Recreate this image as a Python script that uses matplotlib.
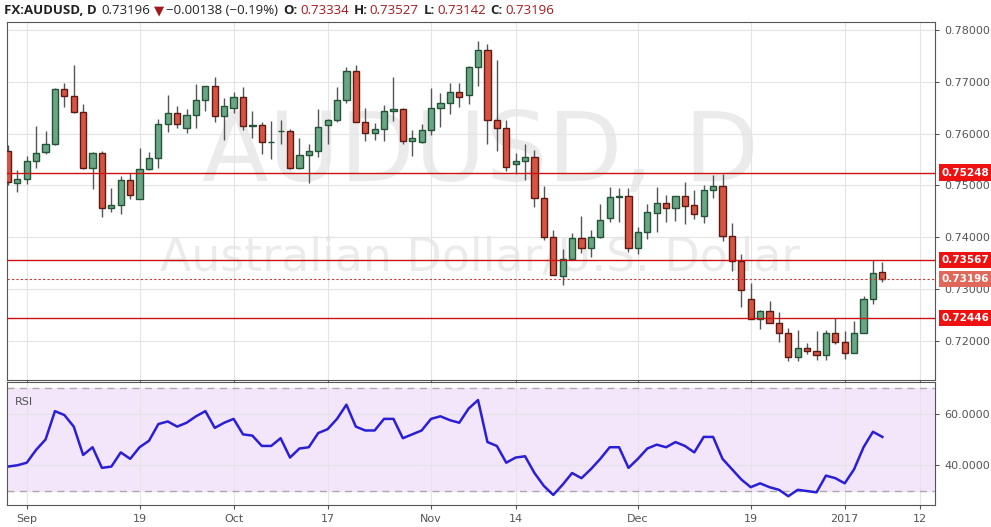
import numpy as np
import pandas as pd
import matplotlib
matplotlib.use("Agg")
import matplotlib.pyplot as plt
from matplotlib.patches import Rectangle

# OHLC, Aug 30 2016 .. Jan 6 2017 (daily)
opens = [.7566, .7505, .7513, .7548, .7564, .7579, .7685, .7672, .7641, .7534,
         .7563, .7457, .7462, .7511, .7474, .7531, .7552, .7619, .7639, .7610,
         .7635, .7664, .7691, .7633, .7650, .7670, .7615, .7617, .7583, .7604,
         .7604, .7534, .7559, .7567, .7617, .7627, .7664, .7720, .7623, .7602,
         .7608, .7643, .7648, .7585, .7583, .7606, .7650, .7658, .7681, .7675,
         .7728, .7761, .7627, .7610, .7542, .7548, .7555, .7475, .7401, .7325,
         .7359, .7398, .7380, .7400, .7437, .7478, .7480, .7380, .7411, .7446,
         .7466, .7456, .7479, .7462, .7442, .7492, .7498, .7402, .7355, .7281,
         .7243, .7258, .7235, .7216, .7170, .7187, .7180, .7173, .7215, .7199,
         .7178, .7215, .7281, .73334]
highs = [.7577, .7530, .7556, .7614, .7604, .7687, .7698, .7732, .7656, .7564,
         .7566, .7495, .7519, .7524, .7572, .7564, .7629, .7674, .7653, .7648,
         .7696, .7692, .7709, .7669, .7680, .7690, .7643, .7623, .7624, .7627,
         .7608, .7592, .7579, .7647, .7628, .7690, .7728, .7733, .7650, .7621,
         .7655, .7709, .7649, .7606, .7619, .7687, .7679, .7698, .7698, .7730,
         .7779, .7773, .7741, .7627, .7563, .7580, .7569, .7498, .7414, .7377,
         .7409, .7442, .7415, .7464, .7497, .7495, .7495, .7419, .7465, .7497,
         .7481, .7480, .7506, .7492, .7501, .7520, .7523, .7427, .7367, .7312,
         .7259, .7278, .7257, .7225, .7221, .7197, .7219, .7222, .7245, .7219,
         .7239, .7286, .7357, .73527]
lows = [.7500, .7488, .7503, .7533, .7561, .7578, .7652, .7639, .7532, .7493,
        .7439, .7448, .7444, .7474, .7473, .7530, .7533, .7603, .7610, .7601,
        .7611, .7643, .7623, .7588, .7640, .7607, .7592, .7561, .7550, .7579,
        .7532, .7532, .7504, .7554, .7580, .7622, .7659, .7622, .7585, .7588,
        .7586, .7624, .7580, .7556, .7582, .7598, .7612, .7637, .7651, .7657,
        .7692, .7579, .7567, .7527, .7523, .7511, .7459, .7395, .7327, .7308,
        .7359, .7369, .7362, .7398, .7429, .7429, .7372, .7367, .7397, .7410,
        .7429, .7432, .7425, .7435, .7428, .7476, .7393, .7336, .7265, .7243,
        .7224, .7235, .7198, .7161, .7162, .7175, .7164, .7164, .7195, .7165,
        .7178, .7215, .7272, .73142]
closes = [.7506, .7513, .7548, .7563, .7579, .7685, .7672, .7641, .7533, .7563,
          .7457, .7462, .7511, .7482, .7531, .7552, .7619, .7639, .7619, .7635,
          .7664, .7691, .7633, .7654, .7670, .7615, .7617, .7583, .7583, .7604,
          .7533, .7559, .7567, .7612, .7627, .7664, .7720, .7623, .7602, .7608,
          .7643, .7648, .7585, .7592, .7606, .7650, .7658, .7681, .7670, .7728,
          .7761, .7627, .7610, .7536, .7548, .7555, .7475, .7401, .7327, .7359,
          .7398, .7380, .7400, .7434, .7478, .7480, .7380, .7411, .7449, .7466,
          .7456, .7479, .7461, .7444, .7492, .7498, .7402, .7355, .7298, .7243,
          .7258, .7235, .7216, .7170, .7187, .7180, .7173, .7215, .7198, .7178,
          .7215, .7281, .7332, .73196]
rsi = [39.5, 40, 41, 46, 50, 61, 59.5, 55, 44, 47, 39, 39.5, 45, 42.5, 47, 49.5, 56,
       57, 55, 56.5, 59, 61, 54.5, 56.5, 58, 52, 51.5, 47.5, 47.5, 50.5, 43,
       46.5, 47, 52.5, 54, 58, 63.5, 55, 53.5, 53.5, 58, 58, 50.5, 52, 53.5,
       58, 59, 57.5, 56.5, 62, 65.3, 49, 47.5, 41, 43, 43.5, 37, 32, 28.5,
       32.5, 37, 35, 38.5, 42.5, 47, 47, 39, 42.5, 46.5, 48, 47, 49, 47.5,
       45, 51, 51, 42.5, 38.5, 34.5, 31.5, 33, 31.5, 30.5, 28, 30.5, 30, 29.5,
       36, 35, 33, 38.5, 47, 53, 51]
levels = [0.75248, 0.73567, 0.72446]
last_price = 0.73196
price_ticks = [0.72, 0.73, 0.74, 0.75, 0.76, 0.77, 0.78]

n = len(closes)
dates = pd.bdate_range("2016-08-30", periods=n + 6)
tick_days = ["2016-09-01", "2016-09-19", "2016-10-03", "2016-10-17", "2016-11-01",
             "2016-11-14", "2016-12-01", "2016-12-19", "2017-01-02", "2017-01-12"]
tick_labels = ["Sep", "19", "Oct", "17", "Nov", "14", "Dec", "19", "2017", "12"]
tick_pos = [dates.get_loc(pd.Timestamp(d)) for d in tick_days]

fig = plt.figure(figsize=(9.91, 5.27), dpi=100)
W, H = 991, 527
ax = fig.add_axes([7 / W, 1 - 380 / H, 928 / W, 358 / H])
ax2 = fig.add_axes([7 / W, 1 - 505 / H, 928 / W, 123 / H])

x = np.arange(n)
for a in (ax, ax2):
    a.set_xlim(-0.1, 98.6)
    a.set_xticks(tick_pos)
    a.grid(True, color="#e4e4e4", lw=0.8)
    a.set_axisbelow(True)
    a.yaxis.tick_right()
    a.tick_params(length=3, colors="#555555", labelsize=8)
    for s in a.spines.values():
        s.set_color("#555555")
ax.set_xticklabels([])
ax2.set_xticklabels(tick_labels)

# candles
for i in x:
    up = closes[i] >= opens[i]
    fc = "#6ba583" if up else "#d75442"
    ec = "#225437" if up else "#5b1a13"
    ax.vlines(i, lows[i], highs[i], color="#555555", lw=1, zorder=2)
    lo, hi = min(opens[i], closes[i]), max(opens[i], closes[i])
    ax.add_patch(Rectangle((i - 0.33, lo), 0.66, max(hi - lo, 0.00004),
                           facecolor=fc, edgecolor=ec, lw=1, zorder=3))

ax.set_ylim(0.7125, 0.7815)
ax.set_yticks(price_ticks)
ax.set_yticklabels([f"{v:.5f}" for v in price_ticks])

def price_tag(val, colour):
    ax.annotate(f"{val:.5f}", (1.0, val), xycoords=("axes fraction", "data"),
                xytext=(5, 0), textcoords="offset points", va="center", ha="left",
                fontsize=7.5, fontweight="bold", color="white", zorder=6,
                bbox=dict(boxstyle="square,pad=0.3", fc=colour, ec="none"))

for lv in levels:
    ax.axhline(lv, color="#cc1111", lw=1, zorder=4)
    price_tag(lv, "#ee1111")
ax.axhline(last_price, color="#cc3333", lw=0.8, ls=(0, (2, 2)), zorder=4)
price_tag(last_price, "#e0685a")

# watermark
ax.text(0.51, 0.63, "AUDUSD, D", transform=ax.transAxes, ha="center", va="center",
        fontsize=70, color="#888888", alpha=0.16, zorder=0)
ax.text(0.51, 0.34, "Australian Dollar/U.S. Dollar", transform=ax.transAxes,
        ha="center", va="center", fontsize=33, color="#888888", alpha=0.16, zorder=0)

# RSI
ax2.axhspan(30, 70, color="#f3e6fb", zorder=0)
ax2.axhline(70, color="#aaaaaa", lw=1, ls=(0, (5, 4)))
ax2.axhline(30, color="#aaaaaa", lw=1, ls=(0, (5, 4)))
ax2.plot(x, rsi, color="#2a1fd6", lw=1.8)
ax2.set_ylim(24.6, 72.3)
ax2.set_yticks([40, 60])
ax2.set_yticklabels(["40.0000", "60.0000"])
ax2.text(0.008, 0.88, "RSI", transform=ax2.transAxes, fontsize=8, color="#555555", va="top")

# header, pieces laid out one after another
red = "#a3191d"
pieces = [("FX:AUDUSD, D", "bold", "#222222", 5), ("0.73196", "normal", "#222222", 3),
          ("▼", "normal", red, 2), ("−0.00138 (−0.19%)", "normal", "#222222", 6),
          ("O:", "bold", "#222222", 2), ("0.73334", "normal", red, 5),
          ("H:", "bold", "#222222", 2), ("0.73527", "normal", red, 5),
          ("L:", "bold", "#222222", 2), ("0.73142", "normal", red, 5),
          ("C:", "bold", "#222222", 2), ("0.73196", "normal", red, 0)]
renderer = fig.canvas.get_renderer()
px = 4
for txt, wt, col, gap in pieces:
    t = fig.text(px / W, 1 - 11 / H, txt, fontsize=9.5, fontweight=wt, va="center", color=col,
                 family=["Open Sans", "DejaVu Sans"])
    px += t.get_window_extent(renderer).width + gap

fig.savefig("out.png", dpi=100)
